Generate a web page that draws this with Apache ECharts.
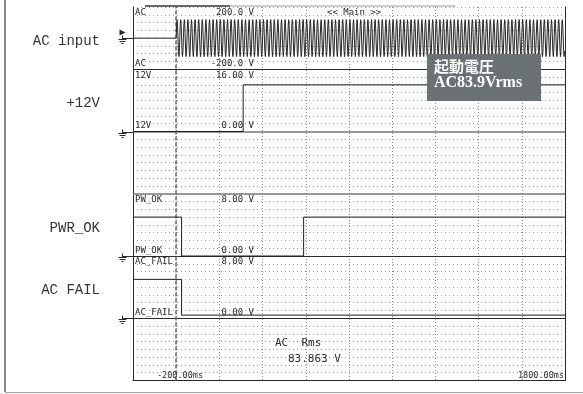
<!DOCTYPE html>
<html>
<head>
<meta charset="utf-8">
<script src="https://cdn.jsdelivr.net/npm/echarts@6/dist/echarts.min.js"></script>
<style>
  html, body { margin: 0; padding: 0; background: #fff; }
  #scope { width: 583px; height: 394px; }
</style>
</head>
<body>
<div id="scope"></div>
<script>
// ---- captured data ----
const timeRangeMs = [-200, 1800];
const timeDivMs = 200;
const timeEndLabels = ['-200.00ms', '1800.00ms'];

const channelNames = ['AC', '12V', 'PW_OK', 'AC_FAIL'];
const channelTitles = ['AC input', '+12V', 'PWR_OK', 'AC FAIL'];
const channelMin = [-200, 0, 0, 0];
const channelMax = [200, 16, 8, 8];
const channelMaxLabels = ['200.0 V', '16.00 V', '8.00 V', '8.00 V'];
const channelMinLabels = ['-200.0 V', '0.00 V', '0.00 V', '0.00 V'];
const channelStrip = [0, 1, 3, 4];          // screen strip used by each channel
const channelGround = [0, 0, 0, 0];         // ground marker level (V)

// AC input: off before the trigger, then 60 Hz mains; one cycle of samples (V)
const acOffTrace = [[-200, 0], [0, 0]];
const acOnMs = 0;
const acFreqHz = 60;
const acCycleVolts = [0, 83.9, 118.6, 83.9, 0, -83.9, -118.6, -83.9];

const v12Trace = [[-200, 0], [310, 0], [310, 12], [1800, 12]];
const pwOkTrace = [[-200, 5], [25, 5], [25, 0], [590, 0], [590, 5], [1800, 5]];
const acFailTrace = [[-200, 5], [25, 5], [25, 0.4], [1800, 0.4]];

const measureLines = ['AC  Rms', '83.863 V'];
const noteLines = ['起動電圧', 'AC83.9Vrms'];
const windowTitle = '<< Main >>';

// ---- build the AC trace from its repeating cycle ----
const acTrace = acOffTrace.slice();
const acStepMs = 1000 / acFreqHz / acCycleVolts.length;
for (let i = 0; acOnMs + i * acStepMs <= timeRangeMs[1]; i++) {
  acTrace.push([acOnMs + i * acStepMs, acCycleVolts[i % acCycleVolts.length]]);
}
const traces = [acTrace, v12Trace, pwOkTrace, acFailTrace];

// ---- screen layout ----
const FL = 133, FT = 7, FW = 432, SH = 62.25, STRIPS = 6, ROWS = 8;
const INK = '#2a2a2a';
const smallFont = '9px "DejaVu Sans Mono"';

const chart = echarts.init(document.getElementById('scope'), null, { renderer: 'canvas' });

const grids = channelStrip.map(s => ({ left: FL, top: FT + s * SH, width: FW, height: SH }));
grids.push({ left: FL, top: FT, width: FW, height: SH * STRIPS });
const OV = grids.length - 1;

const hiddenX = i => ({
  type: 'value', gridIndex: i, min: timeRangeMs[0], max: timeRangeMs[1],
  show: false
});
const xAxes = channelStrip.map((s, i) => hiddenX(i));
xAxes.push({
  type: 'value', gridIndex: OV, min: timeRangeMs[0], max: timeRangeMs[1], interval: timeDivMs,
  axisLine: { show: true, onZero: false, lineStyle: { color: INK, width: 1 } },
  axisTick: { show: false }, axisLabel: { show: false },
  splitLine: { show: true, lineStyle: { color: '#8a8a8a', width: 1, type: [1, 2] } }
});

const yAxes = channelStrip.map((s, i) => ({
  type: 'value', gridIndex: i, min: channelMin[i], max: channelMax[i], show: false
}));
yAxes.push({
  type: 'value', gridIndex: OV, min: 0, max: STRIPS * ROWS, interval: 1,
  axisLine: { show: true, onZero: false, lineStyle: { color: INK, width: 1 } },
  axisTick: { show: false }, axisLabel: { show: false },
  splitLine: { show: true, lineStyle: { color: '#9a9a9a', width: 1, type: [1, 3] } }
});
yAxes.push({
  type: 'value', gridIndex: OV, position: 'right', min: 0, max: STRIPS * ROWS,
  axisLine: { show: true, onZero: false, lineStyle: { color: INK, width: 1 } },
  axisTick: { show: false }, axisLabel: { show: false }, splitLine: { show: false }
});

// strip separators (counted from the bottom of the screen) and the trigger line
const separatorStyle = {
  40: { color: INK, width: 1 },
  32: { color: '#7a7a7a', width: 1.6 },
  24: { color: '#7a7a7a', width: 1.6 },
  16: { color: INK, width: 1 },
  8: { color: INK, width: 1 }
};
const markData = Object.keys(separatorStyle).map(k => ({
  yAxis: Number(k), lineStyle: Object.assign({ type: 'solid' }, separatorStyle[k])
}));
markData.push({ xAxis: 0, lineStyle: { color: '#707070', width: 1.6, type: [4, 2] } });

const series = traces.map((data, i) => ({
  type: 'line', xAxisIndex: i, yAxisIndex: i, data: data,
  showSymbol: false, symbol: 'none', animation: false, silent: true, z: 5,
  lineStyle: { color: i === 0 ? '#262626' : '#1e1e1e', width: 1 }
}));
series.push({
  type: 'line', xAxisIndex: OV, yAxisIndex: OV, data: [], silent: true, animation: false, z: 3,
  markLine: { symbol: 'none', silent: true, animation: false, label: { show: false }, data: markData }
});

chart.setOption({
  animation: false,
  backgroundColor: '#ffffff',
  grid: grids,
  xAxis: xAxes,
  yAxis: yAxes,
  series: series
});

// ---- screen texts and markers ----
const g = [];
const txt = (text, x, y, font, align, vAlign, fill) => g.push({
  type: 'text', z: 10, silent: true,
  style: { text, x, y, font, fill: fill || INK, align: align || 'left', verticalAlign: vAlign || 'middle' }
});
const seg = (x1, y1, x2, y2, stroke, w) => g.push({
  type: 'line', z: 10, silent: true,
  shape: { x1, y1, x2, y2 }, style: { stroke, lineWidth: w || 1 }
});

channelStrip.forEach((s, i) => {
  const top = FT + s * SH, bot = top + SH;
  txt(channelNames[i], FL + 2, top + 1.5, smallFont, 'left', 'top');
  txt(channelMaxLabels[i], 254, top + 1.5, smallFont, 'right', 'top');
  txt(channelNames[i], FL + 2, bot - 1, smallFont, 'left', 'bottom');
  txt(channelMinLabels[i], 254, bot - 1, smallFont, 'right', 'bottom');
  txt(channelTitles[i], 100, top + SH / 2 + 3, '14px "Liberation Mono"', 'right', 'middle', '#333');

  // ground marker at the channel's 0 V level
  const p = chart.convertToPixel({ gridIndex: i }, [timeRangeMs[0], channelGround[i]]);
  const gy = Math.round(p[1]) + 0.5, cx = FL - 10.5;
  seg(cx, gy, FL, gy, INK);
  seg(cx, gy - 3, cx, gy + 1, INK);
  seg(cx - 4, gy + 1, cx + 4, gy + 1, INK);
  seg(cx - 3, gy + 3, cx + 3, gy + 3, INK);
  seg(cx - 1, gy + 5, cx + 1, gy + 5, INK);
  if (i === 0) {
    g.push({ type: 'polygon', z: 10, silent: true,
      shape: { points: [[cx - 3, gy - 9], [cx + 3, gy - 6], [cx - 3, gy - 3]] },
      style: { fill: INK } });
  }
});

txt(windowTitle, 327, FT + 1.5, smallFont, 'left', 'top');
txt(measureLines[0], 275, 343, '11px "DejaVu Sans Mono"', 'left', 'middle');
txt(measureLines[1], 288, 359, '11px "DejaVu Sans Mono"', 'left', 'middle');
txt(timeEndLabels[0], 157, FT + SH * STRIPS - 0.5, '8.5px "DejaVu Sans Mono"', 'left', 'bottom');
txt(timeEndLabels[1], FL + FW - 1, FT + SH * STRIPS - 0.5, '8.5px "DejaVu Sans Mono"', 'right', 'bottom');

// window bar above the screen
seg(145, 6, 230, 6, '#333', 1.5);
seg(230, 6, 455, 6, '#999', 1);

// annotation box
g.push({ type: 'rect', z: 11, silent: true,
  shape: { x: 427, y: 54, width: 114, height: 47 }, style: { fill: '#6b7273' } });
g.push({ type: 'text', z: 12, silent: true,
  style: { text: noteLines[0], x: 434, y: 66, font: 'bold 15px "Noto Sans CJK JP"', fill: '#fff', verticalAlign: 'middle' } });
g.push({ type: 'text', z: 12, silent: true,
  style: { text: noteLines[1], x: 434, y: 83, font: 'bold 16px "Liberation Serif"', fill: '#fff', verticalAlign: 'middle' } });

// page frame
seg(5, 0, 5, 392, '#888', 2);
seg(5, 392.5, 583, 392.5, '#a8a8a8', 1);
g.push({ type: 'rect', z: 1, silent: true, shape: { x: 0, y: 393, width: 583, height: 1 }, style: { fill: '#eeeeee' } });

chart.setOption({ graphic: g });
</script>
</body>
</html>
